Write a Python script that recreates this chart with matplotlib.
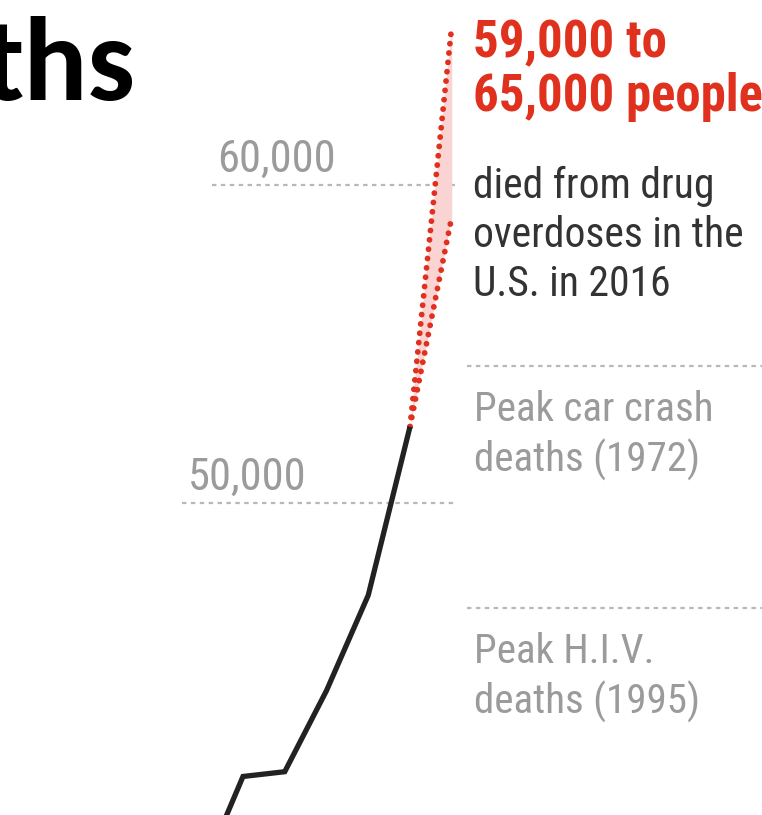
import matplotlib
matplotlib.use("Agg")
import matplotlib.pyplot as plt
from matplotlib import font_manager

# Overdose deaths in the U.S. (reported through 2015, estimated range for 2016)
years = [2010, 2011, 2012, 2013, 2014, 2015]
deaths = [38300, 41400, 41550, 44100, 47100, 52400]
estimate_year = 2016
estimate_low = 59000
estimate_high = 65000

# Reference levels
grid_values = [40000, 50000, 60000]
grid_labels = ["40,000", "50,000", "60,000"]
peak_values = [54300, 46700]
peak_labels = ["Peak car crash\ndeaths (1972)", "Peak H.I.V.\ndeaths (1995)"]

W, H, DPI = 762, 815, 100

names = {f.name for f in font_manager.fontManager.ttflist}


def pick(options):
    for o in options:
        if o in names:
            return o
    return "DejaVu Sans"


NARROW = pick(["Roboto Condensed", "Archivo Narrow", "Fira Sans Condensed",
               "Barlow Semi Condensed", "Liberation Sans Narrow", "Roboto"])
TITLE_FONT = pick(["Carlito", "Lato", "Open Sans"])

fig = plt.figure(figsize=(W / DPI, H / DPI), dpi=DPI)
ax = fig.add_axes([0, 0, 1, 1])
ax.axis("off")

# pixel <-> data helpers for layout
PX_PER_YEAR = 41.75
PX_PER_VAL = 0.0318


def xd(px):
    return 2015 + (px - 410) / PX_PER_YEAR


def yd(py):
    return 50000 + (503 - py) / PX_PER_VAL


ax.set_xlim(xd(0), xd(W))
ax.set_ylim(yd(H), yd(0))

GRID_C = "#b8b8b8"
LABEL_C = "#9b9b9b"
RED = "#e0301e"
FAM = [NARROW, "DejaVu Sans"]

# horizontal value gridlines with labels above them
grid_starts = [xd(15), xd(182), xd(212)]
label_x = [xd(20), xd(188), xd(217)]
for v, lab, x0, lx in zip(grid_values, grid_labels, grid_starts, label_x):
    ax.plot([x0, xd(455)], [v, v], color=GRID_C, lw=1.6,
            linestyle=(0, (2.0, 2.0)), zorder=1)
    ax.annotate(lab, (lx, v), xytext=(0, 9.5), textcoords="offset points",
                ha="left", va="baseline", fontsize=32, color=LABEL_C, family=FAM)

# peak reference lines on the right
for v, lab in zip(peak_values, peak_labels):
    ax.plot([xd(467), xd(W)], [v, v], color=GRID_C, lw=1.6,
            linestyle=(0, (2.0, 2.0)), zorder=1)
    first, second = lab.split("\n")
    ax.annotate(first, (xd(474), v), xytext=(0, -39.5), textcoords="offset points",
                ha="left", va="baseline", fontsize=29.5, color=LABEL_C, family=FAM)
    ax.annotate(second, (xd(474), v), xytext=(0, -76), textcoords="offset points",
                ha="left", va="baseline", fontsize=29.5, color=LABEL_C, family=FAM)

# estimate range: shaded wedge between low and high projections
ax.fill_between([years[-1], estimate_year],
                [deaths[-1], estimate_low], [deaths[-1], estimate_high],
                color="#fad3d3", lw=0, zorder=2)
for target in (estimate_low, estimate_high):
    ax.plot([years[-1], estimate_year], [deaths[-1], target], color=RED,
            lw=4.2, linestyle=(0, (0.01, 1.6)), dash_capstyle="round",
            zorder=3)

# reported deaths
ax.plot(years, deaths, color="#222222", lw=3.8, solid_joinstyle="miter",
        solid_capstyle="butt", zorder=4)

# annotation for the estimate
ax.text(xd(473), yd(57), "59,000 to", ha="left", va="baseline",
        fontsize=36.5, fontweight="bold", color=RED, family=FAM)
ax.text(xd(473), yd(111), "65,000 people", ha="left", va="baseline",
        fontsize=36.5, fontweight="bold", color=RED, family=FAM)
for py, line in zip([198, 247, 296], ["died from drug", "overdoses in the", "U.S. in 2016"]):
    ax.text(xd(473), yd(py), line, ha="left", va="baseline", fontsize=30,
            color="#333333", family=FAM)

# title fragment
fig.text(136 / W, 1 - 100 / H, "ths", ha="right", va="baseline",
         fontsize=86, fontweight="bold", color="black",
         family=[TITLE_FONT, "DejaVu Sans"])

fig.savefig("out.png", dpi=DPI)
